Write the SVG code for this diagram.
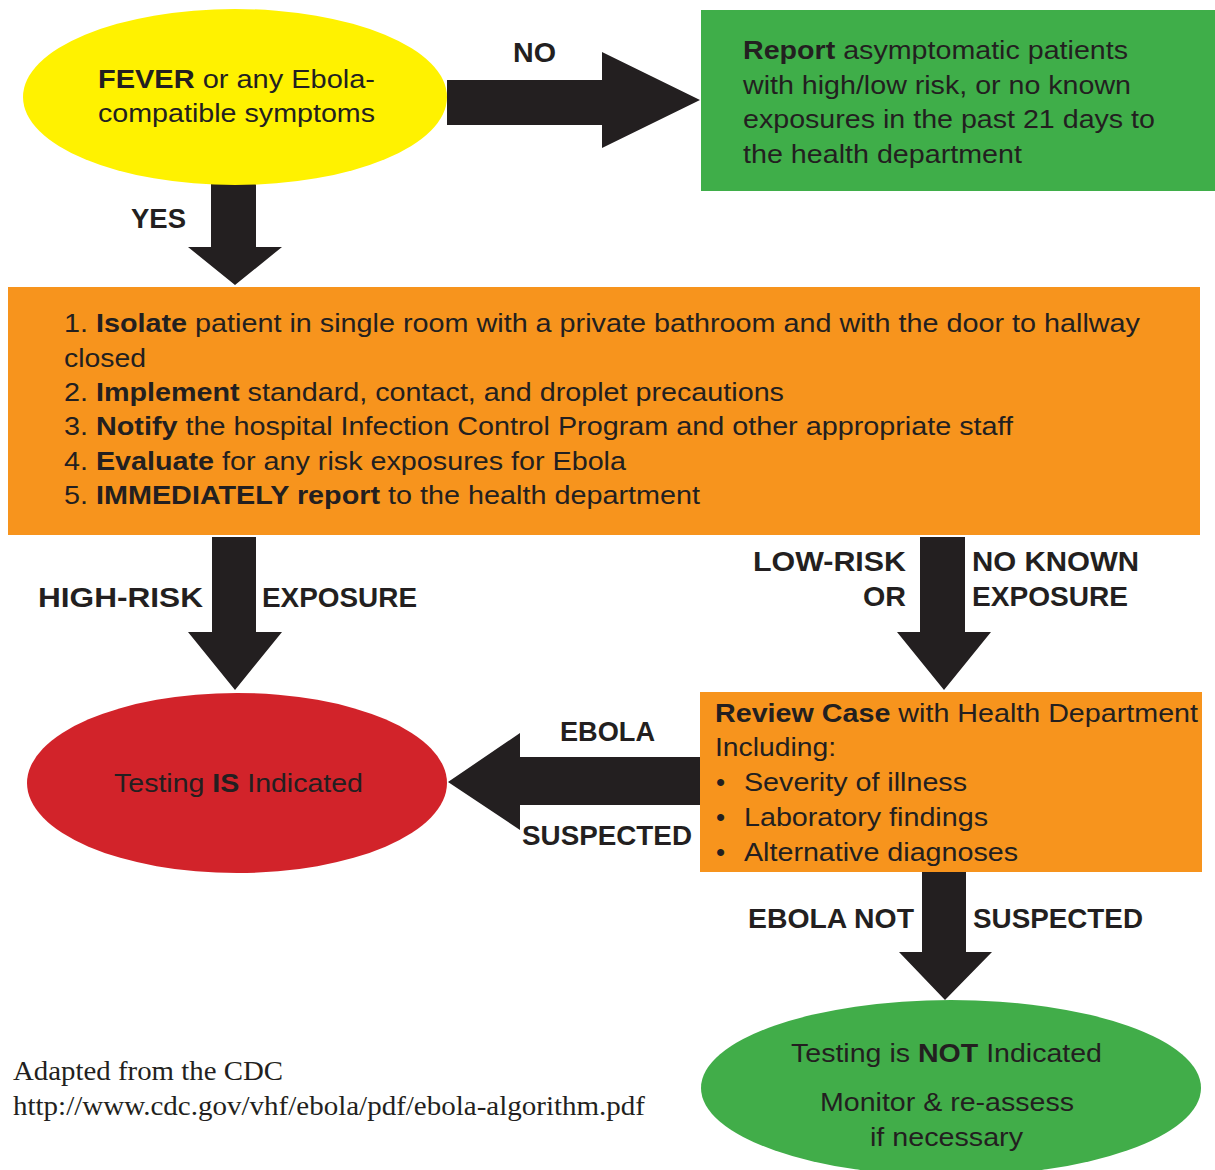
<svg xmlns="http://www.w3.org/2000/svg" width="1215" height="1170" viewBox="0 0 1215 1170">
<style>
.t{font-family:"Liberation Sans",Arial,sans-serif;font-size:26px;fill:#231f20}
.b{font-weight:bold}
.lbl{font-family:"Liberation Sans",Arial,sans-serif;font-size:28px;font-weight:bold;fill:#231f20}
.ref{font-family:"Liberation Serif","Times New Roman",serif;font-size:27px;fill:#231f20}
.arrow{fill:#231f20}
</style>
<rect width="1215" height="1170" fill="#ffffff"/>
<g id="connectors">
<polygon class="arrow" points="447,80 602,80 602,52 700,100 602,148 602,125 447,125"/>
<polygon class="arrow" points="211,183 256,183 256,247 282,247 235,285 188,247 211,247"/>
<polygon class="arrow" points="212,537 256,537 256,632 282,632 235,690 188,632 212,632"/>
<polygon class="arrow" points="920,537 965,537 965,632 991,632 944,690 897,632 920,632"/>
<polygon class="arrow" points="700,757 520,757 520,733 448,782 520,830 520,805 700,805"/>
<polygon class="arrow" points="922,870 966,870 966,952 992,952 945,1000 899,952 922,952"/>
<text class="lbl" x="513" y="62" textLength="43" lengthAdjust="spacingAndGlyphs">NO</text>
<text class="lbl" x="131" y="228" textLength="55" lengthAdjust="spacingAndGlyphs">YES</text>
<text class="lbl" x="38" y="607" textLength="165" lengthAdjust="spacingAndGlyphs">HIGH-RISK</text>
<text class="lbl" x="262" y="607" textLength="155" lengthAdjust="spacingAndGlyphs">EXPOSURE</text>
<text class="lbl" x="753" y="571" textLength="153" lengthAdjust="spacingAndGlyphs">LOW-RISK</text>
<text class="lbl" x="863" y="606" textLength="43" lengthAdjust="spacingAndGlyphs">OR</text>
<text class="lbl" x="972" y="571" textLength="167" lengthAdjust="spacingAndGlyphs">NO KNOWN</text>
<text class="lbl" x="972" y="606" textLength="156" lengthAdjust="spacingAndGlyphs">EXPOSURE</text>
<text class="lbl" x="560" y="741" textLength="95" lengthAdjust="spacingAndGlyphs">EBOLA</text>
<text class="lbl" x="522" y="845" textLength="170" lengthAdjust="spacingAndGlyphs">SUSPECTED</text>
<text class="lbl" x="748" y="928" textLength="166" lengthAdjust="spacingAndGlyphs">EBOLA NOT</text>
<text class="lbl" x="973" y="928" textLength="170" lengthAdjust="spacingAndGlyphs">SUSPECTED</text>
</g>
<g id="fever">
<ellipse cx="235" cy="97" rx="212" ry="88" fill="#fff200"/>
<text class="t" x="98" y="88" textLength="277" lengthAdjust="spacingAndGlyphs"><tspan class="b">FEVER</tspan> or any Ebola-</text>
<text class="t" x="98" y="122" textLength="277" lengthAdjust="spacingAndGlyphs">compatible symptoms</text>
</g>
<g id="report">
<rect x="701" y="10" width="514" height="181" fill="#3fae49"/>
<text class="t" x="743" y="59" textLength="385" lengthAdjust="spacingAndGlyphs"><tspan class="b">Report</tspan> asymptomatic patients</text>
<text class="t" x="743" y="93.5" textLength="388" lengthAdjust="spacingAndGlyphs">with high/low risk, or no known</text>
<text class="t" x="743" y="128" textLength="412" lengthAdjust="spacingAndGlyphs">exposures in the past 21 days to</text>
<text class="t" x="743" y="162.5" textLength="279" lengthAdjust="spacingAndGlyphs">the health department</text>
</g>
<g id="actions">
<rect x="8" y="287" width="1192" height="248" fill="#f7941d"/>
<text class="t" x="64" y="332" textLength="1076" lengthAdjust="spacingAndGlyphs">1. <tspan class="b">Isolate</tspan> patient in single room with a private bathroom and with the door to hallway</text>
<text class="t" x="64" y="366.5" textLength="82" lengthAdjust="spacingAndGlyphs">closed</text>
<text class="t" x="64" y="401" textLength="720" lengthAdjust="spacingAndGlyphs">2. <tspan class="b">Implement</tspan> standard, contact, and droplet precautions</text>
<text class="t" x="64" y="435" textLength="949" lengthAdjust="spacingAndGlyphs">3. <tspan class="b">Notify</tspan> the hospital Infection Control Program and other appropriate staff</text>
<text class="t" x="64" y="470" textLength="562" lengthAdjust="spacingAndGlyphs">4. <tspan class="b">Evaluate</tspan> for any risk exposures for Ebola</text>
<text class="t" x="64" y="504" textLength="636" lengthAdjust="spacingAndGlyphs">5. <tspan class="b">IMMEDIATELY report</tspan> to the health department</text>
</g>
<g id="testing-is">
<ellipse cx="237" cy="783" rx="210" ry="90" fill="#d2232a"/>
<text class="t" x="114" y="792" textLength="249" lengthAdjust="spacingAndGlyphs">Testing <tspan class="b">IS</tspan> Indicated</text>
</g>
<g id="review">
<rect x="700" y="692" width="502" height="180" fill="#f7941d"/>
<text class="t" x="715" y="722" textLength="483" lengthAdjust="spacingAndGlyphs"><tspan class="b">Review Case</tspan> with Health Department</text>
<text class="t" x="715" y="756" textLength="121" lengthAdjust="spacingAndGlyphs">Including:</text>
<text class="t" x="716" y="791">•</text>
<text class="t" x="744" y="791" textLength="223" lengthAdjust="spacingAndGlyphs">Severity of illness</text>
<text class="t" x="716" y="826">•</text>
<text class="t" x="744" y="826" textLength="244" lengthAdjust="spacingAndGlyphs">Laboratory findings</text>
<text class="t" x="716" y="861">•</text>
<text class="t" x="744" y="861" textLength="274" lengthAdjust="spacingAndGlyphs">Alternative diagnoses</text>
</g>
<g id="testing-not">
<ellipse cx="951" cy="1088" rx="250" ry="88" fill="#41ad49"/>
<text class="t" x="791" y="1062" textLength="311" lengthAdjust="spacingAndGlyphs">Testing is <tspan class="b">NOT</tspan> Indicated</text>
<text class="t" x="820" y="1111" textLength="254" lengthAdjust="spacingAndGlyphs">Monitor &amp; re-assess</text>
<text class="t" x="870" y="1146" textLength="153" lengthAdjust="spacingAndGlyphs">if necessary</text>
</g>
<g id="source">
<text class="ref" x="13" y="1080" textLength="270" lengthAdjust="spacingAndGlyphs">Adapted from the CDC</text>
<text class="ref" x="13" y="1115" textLength="632" lengthAdjust="spacingAndGlyphs">http://www.cdc.gov/vhf/ebola/pdf/ebola-algorithm.pdf</text>
</g>
</svg>
